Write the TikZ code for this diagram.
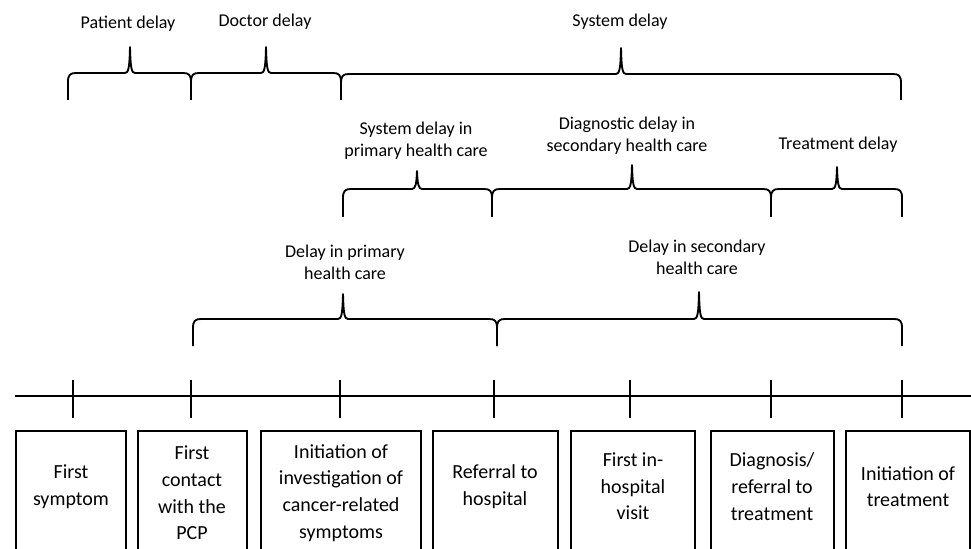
\documentclass[tikz,border=0pt]{standalone}
\usepackage{fontspec}
\setmainfont{Carlito}
\begin{document}
\begin{tikzpicture}[x=0.75pt,y=-0.75pt,
  braceline/.style={line width=1.4pt,line join=round},
  evbox/.style={line width=1.5pt},
  tline/.style={line width=1.1pt},
  lbl/.style={align=center,inner sep=0pt,font=\fontsize{13.5}{16.5}\selectfont},
  evtext/.style={align=center,inner sep=0pt,font=\fontsize{15}{20}\selectfont}]
\useasboundingbox (0,0) rectangle (971,549);
\newcommand{\mybrace}[6]{%
  \draw[braceline] (#1,#4) -- (#1,#5+9) .. controls (#1,#5+2) and (#1+2,#5) .. (#1+8,#5)
    -- (#2-5,#5) .. controls (#2-1.5,#5) and (#2-0.5,#5-5) .. (#2,#6)
    .. controls (#2+0.5,#5-5) and (#2+1.5,#5) .. (#2+5,#5)
    -- (#3-8,#5) .. controls (#3-2,#5) and (#3,#5+2) .. (#3,#5+9) -- (#3,#4);}
% row 1
\mybrace{68}{130}{191}{100}{73}{47}
\mybrace{191}{266}{341}{100}{73}{47}
\mybrace{341}{621}{901}{100}{74}{48}
\node[lbl] (pd) at (128,24) {Patient delay};
\node[lbl] (dd) at (265,22) {Doctor delay};
\node[lbl] (sd) at (620,22) {System delay};
% row 2
\mybrace{343}{417}{492}{217}{189}{171}
\mybrace{492}{632}{771}{217}{189}{165}
\mybrace{771}{837}{902}{217}{189}{167}
\node[lbl] (sp) at (416,141) {System delay in\\primary health care};
\node[lbl] (dg) at (627,136) {Diagnostic delay in\\secondary health care};
\node[lbl] (tr) at (838,145) {Treatment delay};
% row 3
\mybrace{193}{343}{497}{346}{319}{294}
\mybrace{497}{699}{902}{346}{319}{292}
\node[lbl] (dp) at (345,262) {Delay in primary\\health care};
\node[lbl] (ds) at (697,257) {Delay in secondary\\health care};
% timeline
\coordinate (tl0) at (15,396);
\coordinate (tl1) at (971,396);
\draw[tline] (tl0) -- (tl1);
\foreach \x in {73,191,340,494,630,771,902}{\draw[tline] (\x,380) -- (\x,418);}
% boxes
\draw[evbox] (16,431) rectangle (126,560);
\draw[evbox] (138,431) rectangle (247,560);
\draw[evbox] (261,431) rectangle (421,560);
\draw[evbox] (433,431) rectangle (558,560);
\draw[evbox] (571,431) rectangle (695,560);
\draw[evbox] (711,431) rectangle (834,560);
\draw[evbox] (846,431) rectangle (970,560);
\node[evtext] (e1) at (71,486.5) {First\\symptom};
\node[evtext] (e2) at (192,493) {First\\contact\\with the\\PCP};
\node[evtext] (e3) at (341,493) {Initiation of\\investigation of\\cancer-related\\symptoms};
\node[evtext] (e4) at (495,486.5) {Referral to\\hospital};
\node[evtext] (e5) at (633,486.5) {First in-\\hospital\\visit};
\node[evtext] (e6) at (772,486.5) {Diagnosis/\\referral to\\treatment};
\node[evtext] (e7) at (908,486.5) {Initiation of\\treatment};
\end{tikzpicture}
\end{document}
